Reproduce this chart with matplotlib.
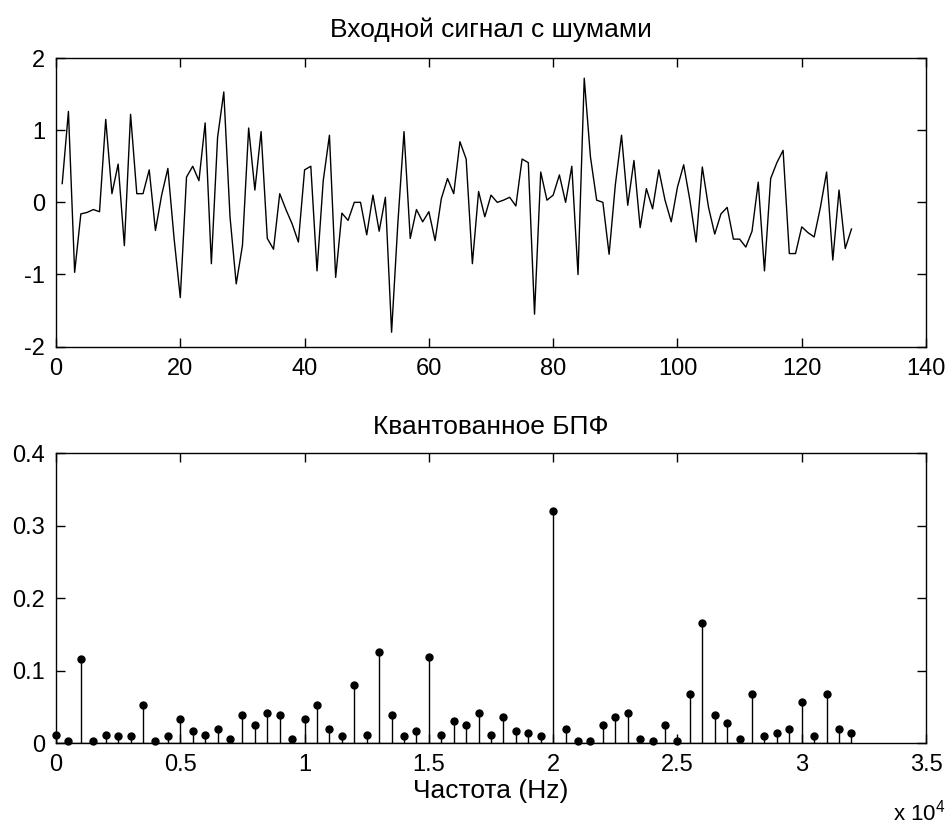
import matplotlib
matplotlib.use("Agg")
import matplotlib.pyplot as plt
import numpy as np
from matplotlib.ticker import FuncFormatter

plt.rcParams['font.family'] = ['Liberation Sans', 'DejaVu Sans']
plt.rcParams['mathtext.default'] = 'regular'
plt.rcParams['axes.unicode_minus'] = False

# входной сигнал (отсчёты 1..128)
n = np.arange(1, 129)
signal = [0.26, 1.26, -0.97, -0.16, -0.14, -0.10, -0.13, 1.15, 0.12, 0.53,
          -0.60, 1.22, 0.12, 0.12, 0.45, -0.39, 0.10, 0.47, -0.50, -1.32,
          0.35, 0.50, 0.30, 1.10, -0.85, 0.90, 1.53, -0.20, -1.13, -0.60,
          1.03, 0.17, 0.98, -0.50, -0.65, 0.12, -0.10, -0.30, -0.55, 0.45,
          0.50, -0.95, 0.30, 0.93, -1.04, -0.15, -0.25, 0.00, 0.00, -0.45,
          0.10, -0.40, 0.07, -1.80, -0.30, 0.98, -0.50, -0.10, -0.27, -0.13,
          -0.53, 0.05, 0.33, 0.12, 0.84, 0.60, -0.85, 0.15, -0.20, 0.10,
          0.00, 0.03, 0.07, -0.05, 0.60, 0.55, -1.55, 0.42, 0.03, 0.10,
          0.38, 0.00, 0.50, -1.00, 1.72, 0.63, 0.03, 0.00, -0.72, 0.24,
          0.93, -0.04, 0.58, -0.35, 0.19, -0.09, 0.45, 0.03, -0.27, 0.21,
          0.52, 0.03, -0.55, 0.49, -0.07, -0.44, -0.16, -0.07, -0.51, -0.51,
          -0.62, -0.40, 0.28, -0.95, 0.33, 0.55, 0.72, -0.71, -0.71, -0.34,
          -0.42, -0.48, -0.07, 0.42, -0.80, 0.17, -0.64, -0.37]

# квантованное БПФ, шаг 500 Гц
freq = np.arange(0, 32500, 500)
spectrum = [0.011, 0.003, 0.116, 0.003, 0.011, 0.009, 0.009, 0.052, 0.003, 0.009,
            0.033, 0.017, 0.011, 0.019, 0.006, 0.038, 0.025, 0.041, 0.038, 0.006,
            0.033, 0.052, 0.019, 0.009, 0.080, 0.011, 0.125, 0.039, 0.010, 0.017,
            0.119, 0.011, 0.031, 0.025, 0.042, 0.011, 0.036, 0.017, 0.014, 0.009,
            0.320, 0.020, 0.003, 0.003, 0.025, 0.036, 0.042, 0.006, 0.003, 0.025,
            0.003, 0.068, 0.165, 0.038, 0.027, 0.006, 0.068, 0.009, 0.014, 0.019,
            0.057, 0.009, 0.068, 0.019, 0.014]

fs = 17
fs_title = 19

fig = plt.figure(figsize=(9.46, 8.24), dpi=100)
ax1 = fig.add_axes([0.0592, 0.5793, 0.9197, 0.3503])
ax2 = fig.add_axes([0.0592, 0.0983, 0.9197, 0.3519])

ax1.plot(n, signal, color='k', lw=1.0)
ax1.set_xlim(0, 140)
ax1.set_ylim(-2, 2)
ax1.set_xticks(np.arange(0, 141, 20))
ax1.set_yticks([-2, -1, 0, 1, 2])
ax1.set_title('Входной сигнал с шумами', fontsize=fs_title, pad=15)

ml, sl, bl = ax2.stem(freq, spectrum, linefmt='k-', markerfmt='ko', basefmt='k-')
plt.setp(sl, linewidth=1.0)
plt.setp(ml, markersize=5, clip_on=False)
plt.setp(bl, linewidth=1.0)
ax2.set_xlim(0, 35000)
ax2.set_ylim(0, 0.4)
ax2.set_xticks(np.arange(0, 35001, 5000))
ax2.set_yticks([0, 0.1, 0.2, 0.3, 0.4])
ax2.xaxis.set_major_formatter(FuncFormatter(lambda v, p: '%g' % (v / 1e4)))
ax2.yaxis.set_major_formatter(FuncFormatter(lambda v, p: '%g' % v))
ax2.set_title('Квантованное БПФ', fontsize=fs_title, pad=14)
ax2.set_xlabel('Частота (Hz)', fontsize=fs_title, labelpad=2)
fig.text(893 / 946, 1 - 820 / 824, 'x 10$^4$', ha='left', va='baseline', fontsize=fs - 1)

for ax in (ax1, ax2):
    ax.tick_params(direction='in', length=6.5, width=1, top=True, right=True,
                   labelsize=fs, pad=8)
    ax.tick_params(axis='y', pad=8)
    for s in ax.spines.values():
        s.set_linewidth(1.0)

fig.savefig('out.png', dpi=100)
